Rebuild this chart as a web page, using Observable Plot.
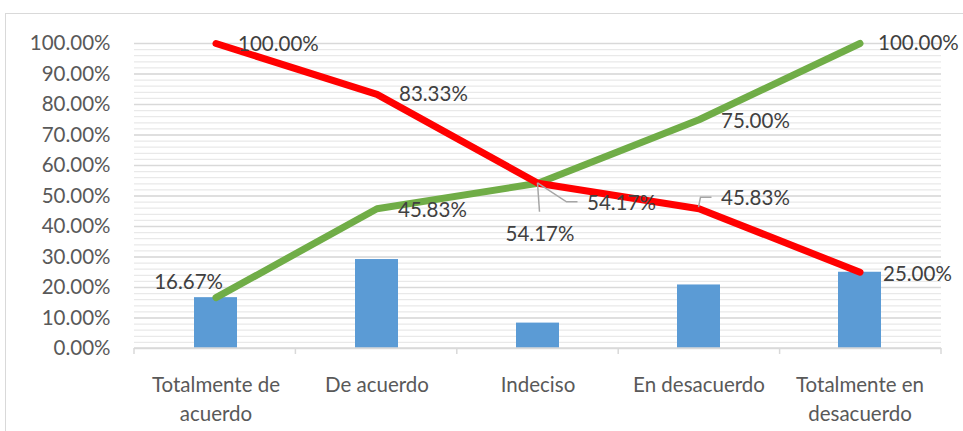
<!DOCTYPE html>
<html><head><meta charset="utf-8">
<script src="https://cdn.jsdelivr.net/npm/d3@7"></script>
<script src="https://cdn.jsdelivr.net/npm/@observablehq/plot@0.6"></script>
<style>
body{margin:0;background:#fff;overflow:hidden;}
#wrap{position:relative;width:963px;height:431px;}
#wrap svg{position:absolute;left:0;top:0;}
#border{position:absolute;left:5px;top:13px;width:1000px;height:1000px;border:1.5px solid #d9d9d9;box-sizing:border-box;}
</style></head><body><div id="wrap"><div id="border"></div></div>
<script>
const categories = ["Totalmente de acuerdo","De acuerdo","Indeciso","En desacuerdo","Totalmente en desacuerdo"];
const axisLabels = ["Totalmente de\nacuerdo","De acuerdo","Indeciso","En desacuerdo","Totalmente en\ndesacuerdo"];
const frequency = [0.1667,0.2917,0.0833,0.2083,0.25];
const cumulativeAsc = [0.1667,0.4583,0.5417,0.75,1.0];
const cumulativeDesc = [1.0,0.8333,0.5417,0.4583,0.25];
const yTicks = [0,0.1,0.2,0.3,0.4,0.5,0.6,0.7,0.8,0.9,1.0];
const yMinor = d3.range(0,51).map(i=>i*0.02);

const rows = categories.map((c,i)=>({cat:c, freq:frequency[i], asc:cumulativeAsc[i], desc:cumulativeDesc[i]}));
const pct = v => (v*100).toFixed(2)+"%";

const labelSpecs = [
 {s:"desc", i:0, dx:22, dy:1, anchor:"start"},
 {s:"asc", i:0, dx:7, dy:-15, anchor:"end"},
 {s:"desc", i:1, dx:22, dy:0, anchor:"start"},
 {s:"asc", i:1, dx:21, dy:2, anchor:"start"},
 {s:"asc", i:2, dx:2, dy:51, anchor:"middle"},
 {s:"desc", i:2, dx:49, dy:20, anchor:"start"},
 {s:"desc", i:3, dx:22, dy:-10, anchor:"start"},
 {s:"asc", i:3, dx:22, dy:2, anchor:"start"},
 {s:"asc", i:4, dx:18, dy:0, anchor:"start"},
 {s:"desc", i:4, dx:23, dy:2, anchor:"start"}
];
const FONT = "Lato, 'Open Sans', sans-serif";
const FS = 20.5;

const labelMarks = labelSpecs.map(sp => Plot.text([rows[sp.i]], {
  x: "cat", y: sp.s, text: d => pct(d[sp.s]),
  dx: sp.dx, dy: sp.dy, textAnchor: sp.anchor,
  fill: "#404040", fontSize: FS, fontFamily: FONT
}));

const plot = Plot.plot({
  width: 963, height: 431,
  marginLeft: 134, marginRight: 22, marginTop: 43, marginBottom: 83,
  style: {fontFamily: FONT, color: "#595959", background: "transparent"},
  x: {domain: categories, paddingInner: 0.734, paddingOuter: 0.367, axis: null},
  y: {domain: [0,1], axis: null},
  marks: [
    Plot.ruleY(yMinor, {stroke: "#e9e9e9", strokeWidth: 1.2}),
    Plot.ruleY(yTicks, {stroke: "#d9d9d9", strokeWidth: 1.5}),
    Plot.axisY({ticks: yTicks, tickFormat: pct, tickSize: 0, tickPadding: 24, fontSize: FS, label: null}),
    Plot.axisX({tickFormat: (d,i)=>axisLabels[categories.indexOf(d)], tickSize: 0, tickPadding: 24, fontSize: FS, lineHeight: 1.37, label: null}),
    Plot.barY(rows, {x: "cat", y: "freq", fill: "#5b9bd5"}),
    Plot.line(rows, {x: "cat", y: "asc", stroke: "#70ad47", strokeWidth: 7, strokeLinecap: "round", strokeLinejoin: "round"}),
    Plot.line(rows, {x: "cat", y: "desc", stroke: "#ff0000", strokeWidth: 7, strokeLinecap: "round", strokeLinejoin: "round"}),
    ...labelMarks
  ]
});
document.getElementById("wrap").appendChild(plot);

// axis line, category boundary ticks and leader lines, placed with the plot's own scales
const xs = plot.scale("x"), ys = plot.scale("y");
const bw = xs.bandwidth || 0;
const step = (xs.range[1]-xs.range[0]) / categories.length;
const cx = c => xs.apply(c) + bw/2;
const y0 = ys.apply(0);
const svg = d3.select(plot);
const g = svg.append("g").attr("fill","none");
g.append("line").attr("x1", xs.range[0]).attr("x2", xs.range[1]).attr("y1", y0).attr("y2", y0).attr("stroke","#d9d9d9").attr("stroke-width",1.5);
d3.range(categories.length+1).forEach(k => {
  const x = xs.range[0] + k*step;
  g.append("line").attr("x1", x).attr("x2", x).attr("y1", y0).attr("y2", y0+6).attr("stroke","#d9d9d9").attr("stroke-width",1.5);
});
const leaders = [
  {s:"asc", i:2, pts:[[0,0],[2,29]]},
  {s:"desc", i:2, pts:[[0,0],[29,19],[40,19]]},
  {s:"desc", i:3, pts:[[0,-1],[2,-11],[13,-11]]}
];
leaders.forEach(L => {
  const px = cx(categories[L.i]), py = ys.apply(rows[L.i][L.s]);
  g.append("polyline").attr("points", L.pts.map(p=>[px+p[0], py+p[1]].join(",")).join(" "))
   .attr("stroke","#a6a6a6").attr("stroke-width",1.5);
});
</script>
</body></html>
